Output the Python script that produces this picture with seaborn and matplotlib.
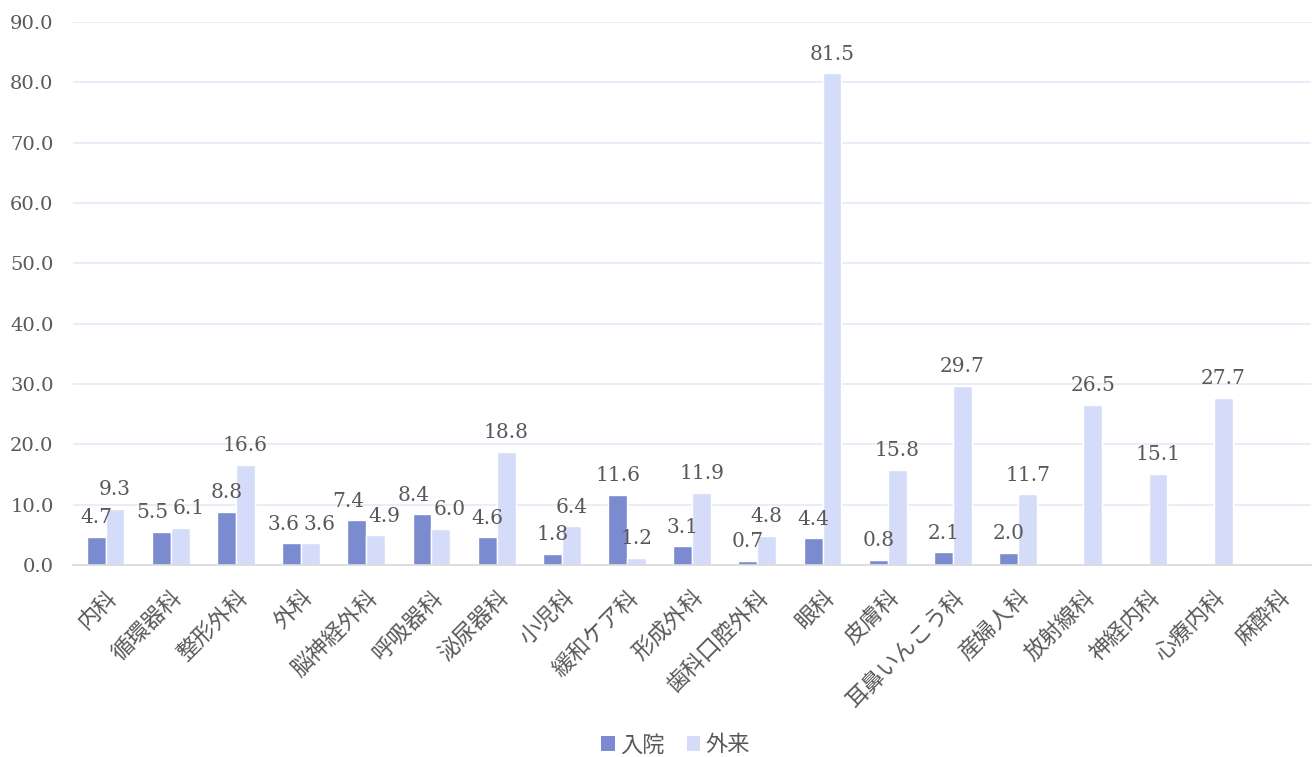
import matplotlib
matplotlib.use("Agg")
import matplotlib.pyplot as plt
import seaborn as sns
import pandas as pd
from matplotlib.ticker import FormatStrFormatter, MultipleLocator
from matplotlib.patches import Patch

# 診療科ごとの値
departments = ["内科", "循環器科", "整形外科", "外科", "脳神経外科", "呼吸器科", "泌尿器科",
               "小児科", "緩和ケア科", "形成外科", "歯科口腔外科", "眼科", "皮膚科",
               "耳鼻いんこう科", "産婦人科", "放射線科", "神経内科", "心療内科", "麻酔科"]
inpatient = [4.7, 5.5, 8.8, 3.6, 7.4, 8.4, 4.6, 1.8, 11.6, 3.1, 0.7, 4.4, 0.8, 2.1, 2.0,
             None, None, None, None]
outpatient = [9.3, 6.1, 16.6, 3.6, 4.9, 6.0, 18.8, 6.4, 1.2, 11.9, 4.8, 81.5, 15.8, 29.7,
              11.7, 26.5, 15.1, 27.7, None]
series = ["入院", "外来"]
colors = ["#7B8BD0", "#D4DCFA"]

rows = []
for name, vals in zip(series, [inpatient, outpatient]):
    for d, v in zip(departments, vals):
        if v is not None:
            rows.append({"診療科": d, "区分": name, "値": v})
df = pd.DataFrame(rows)

sns.set_theme(style="white")
num_font = "DejaVu Serif"
jp_font = ["Noto Sans CJK JP", "DejaVu Sans"]
text_color = "#595959"

fig = plt.figure(figsize=(13.12, 7.57), dpi=100)
ax = fig.add_axes([0.0556, 0.2536, 0.944, 0.7174])

sns.barplot(data=df, x="診療科", y="値", hue="区分", order=departments,
            hue_order=series, palette=colors, width=0.58, errorbar=None,
            saturation=1, ax=ax, legend=False)

label_sets = []
for container in ax.containers:
    label_sets.append(ax.bar_label(container, fmt="%.1f", padding=7, fontsize=14.5,
                                   family=num_font, color=text_color))

ax.set_ylim(0, 90)
ax.yaxis.set_major_locator(MultipleLocator(10))
ax.yaxis.set_major_formatter(FormatStrFormatter("%.1f"))
ax.grid(axis="y", color="#E6EAF8", linewidth=1.2)
ax.set_axisbelow(True)
ax.set_xlim(-0.5, len(departments) - 0.5)
ax.set_xlabel("")
ax.set_ylabel("")
for s in ["top", "right", "left"]:
    ax.spines[s].set_visible(False)
ax.spines["bottom"].set_color("#D9D9D9")
ax.spines["bottom"].set_linewidth(1.2)
ax.tick_params(axis="y", length=0, pad=14)
ax.tick_params(axis="x", length=0, pad=15)

for lab in ax.get_yticklabels():
    lab.set_fontfamily(num_font)
    lab.set_fontsize(14)
    lab.set_color(text_color)

ax.set_xticks(range(len(departments)))
ax.set_xticklabels(departments, rotation=45, ha="right", rotation_mode="anchor",
                   family=jp_font, fontsize=16, color=text_color)

handles = [Patch(facecolor=c, edgecolor="none") for c in colors]
fig.legend(handles, series, loc="center", bbox_to_anchor=(0.515, 0.016),
           ncol=2, frameon=False, handlelength=0.6, handleheight=0.6,
           handletextpad=0.25, columnspacing=1.0,
           prop={"family": jp_font, "size": 16}, labelcolor=text_color)

# Push paired value labels apart sideways when they collide
fig.canvas.draw()
renderer = fig.canvas.get_renderer()
pairs = {}
for si, container in enumerate(ax.containers):
    for patch, txt in zip(container.patches, label_sets[si]):
        cat = int(round(patch.get_x() + patch.get_width() / 2))
        pairs.setdefault(cat, {})[si] = txt
for cat, pair in pairs.items():
    if 0 in pair and 1 in pair:
        a, b = pair[0], pair[1]
        ba = a.get_window_extent(renderer)
        bb = b.get_window_extent(renderer)
        if ba.overlaps(bb):
            overlap_px = ba.x1 - bb.x0 + 4
            half_pt = overlap_px / 2 / fig.dpi * 72
            ax_, ay_ = a.xyann
            bx_, by_ = b.xyann
            a.xyann = (ax_ - half_pt, ay_)
            b.xyann = (bx_ + half_pt, by_)

fig.savefig("out.png", dpi=100, facecolor="white")
